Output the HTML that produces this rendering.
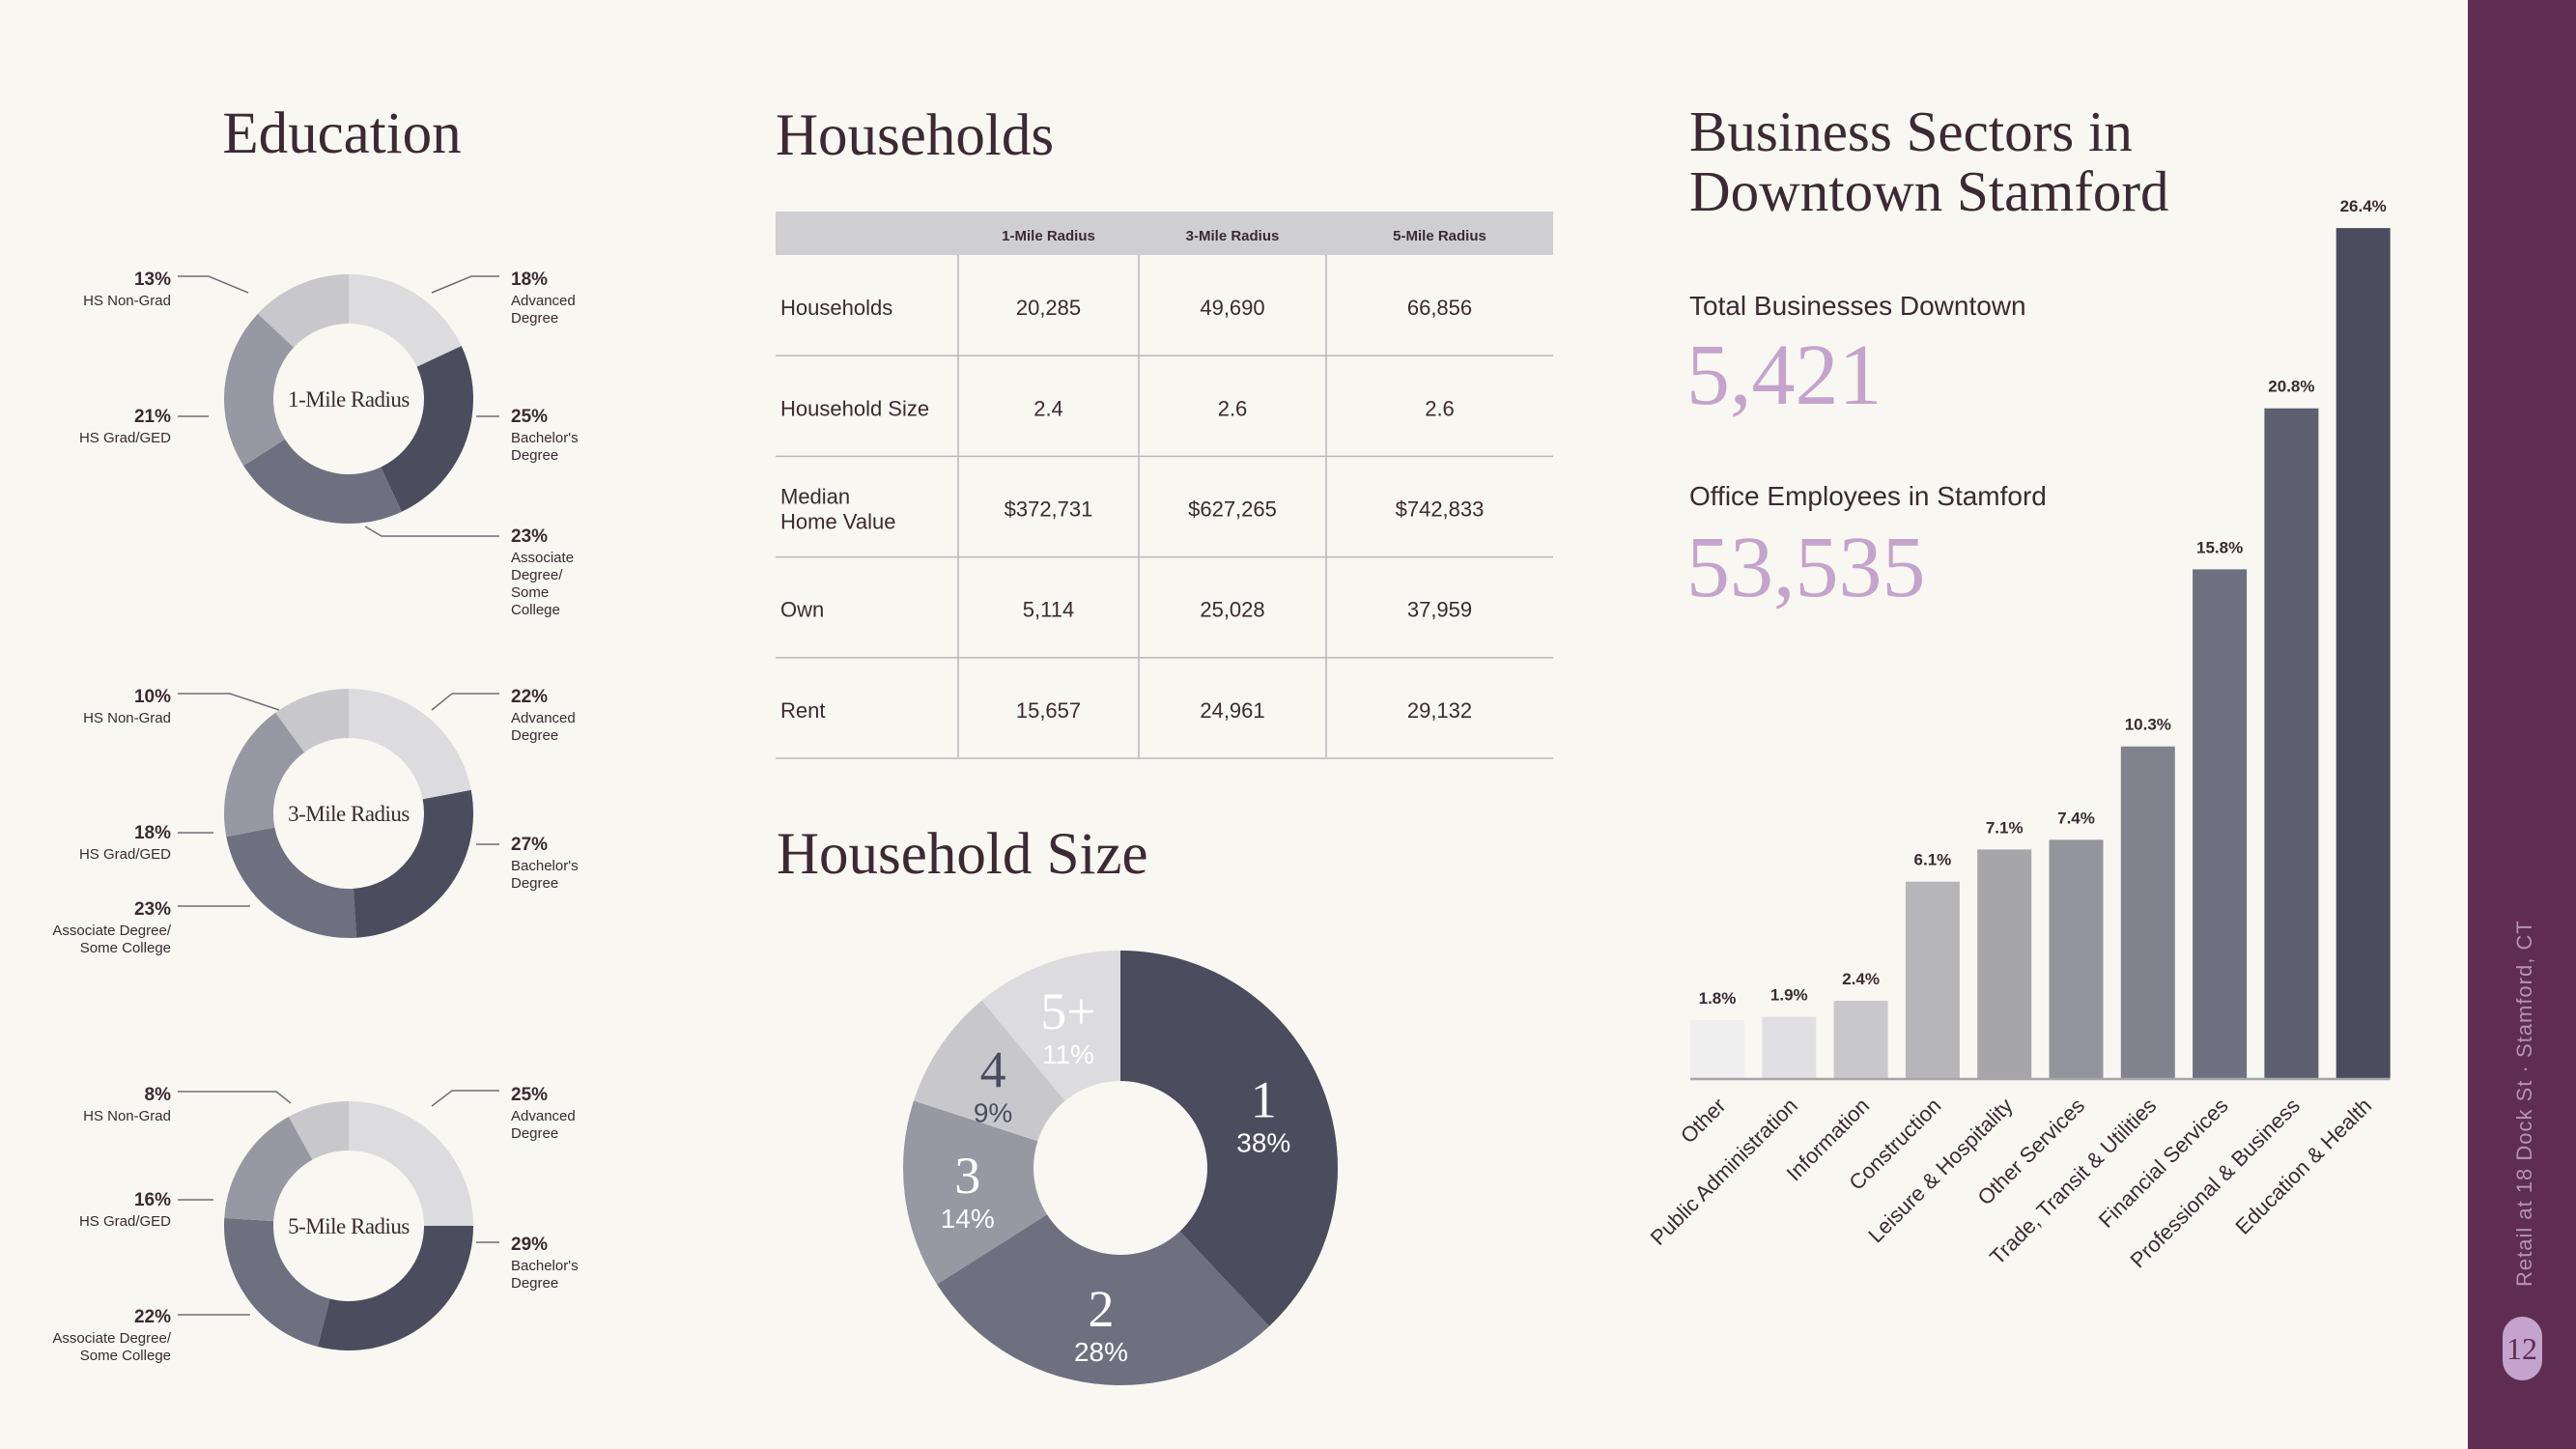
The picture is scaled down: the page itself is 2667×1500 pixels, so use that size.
<!DOCTYPE html>
<html><head><meta charset="utf-8"><style>
html,body{margin:0;padding:0;background:#f8f7f1;}
svg{display:block;}
.serif{font-family:"Liberation Serif",serif;}
.sans{font-family:"Liberation Sans",sans-serif;}
</style></head><body>
<svg id="root" width="2667" height="1500" viewBox="0 0 2667 1500" xmlns="http://www.w3.org/2000/svg">
<rect width="2667" height="1500" fill="#f8f7f1"/>
<rect x="2555" y="0" width="112" height="1500" fill="#5f2c52"/>
<text class="sans" transform="translate(2621,1332) rotate(-90)" font-size="22" fill="#b592b2" letter-spacing="1">Retail at 18 Dock St · Stamford, CT</text>
<rect x="2591" y="1363" width="41" height="66" rx="20.5" fill="#c4a3cc"/>
<text class="serif" x="2611" y="1407" font-size="32" text-anchor="middle" fill="#5f2c52">12</text>

<text class="serif" x="354" y="158" font-size="61" text-anchor="middle" fill="#3b2a33">Education</text>
<g id="edu"></g>

<text class="serif" x="803" y="160" font-size="61" fill="#3b2a33">Households</text>
<g id="table" class="sans"></g>

<text class="serif" x="804" y="904" font-size="61" fill="#3b2a33">Household Size</text>
<g id="pie"></g>

<text class="serif" x="1749" y="156" font-size="59" fill="#3b2a33">Business Sectors in</text>
<text class="serif" x="1749" y="218" font-size="59" fill="#3b2a33">Downtown Stamford</text>
<text class="sans" x="1749" y="326" font-size="28" fill="#3b2a33">Total Businesses Downtown</text>
<text class="serif" x="1746" y="418" font-size="90" fill="#c4a3cc">5,421</text>
<text class="sans" x="1749" y="523" font-size="28" fill="#3b2a33">Office Employees in Stamford</text>
<text class="serif" x="1746" y="617" font-size="90" fill="#c4a3cc">53,535</text>
<g id="bars" class="sans"></g>
</svg>
<script>
const NS="http://www.w3.org/2000/svg";
function mk(tag,attrs,parent,txt){const e=document.createElementNS(NS,tag);for(const k in attrs)e.setAttribute(k,attrs[k]);if(txt!==undefined)e.textContent=txt;parent.appendChild(e);return e;}
const DARK="#3b2a33";
const SEG_COLORS=["#dcdcde","#4b4c5e","#6e7080","#9898a2","#c8c8cc"];

// ===== Education donuts =====
const eduRadii=["1-Mile Radius","3-Mile Radius","5-Mile Radius"];
const eduCats=["Advanced Degree","Bachelor's Degree","Associate Degree/Some College","HS Grad/GED","HS Non-Grad"];
const edu1=[18,25,23,21,13];
const edu2=[22,27,23,18,10];
const edu3=[25,29,22,16,8];
const eduSeries=[edu1,edu2,edu3];

function arcPath(cx,cy,ro,ri,a0,a1){
  const p=(r,a)=>[cx+r*Math.sin(a),cy-r*Math.cos(a)];
  const large=(a1-a0)>Math.PI?1:0;
  const [x0,y0]=p(ro,a0),[x1,y1]=p(ro,a1),[x2,y2]=p(ri,a1),[x3,y3]=p(ri,a0);
  return `M${x0},${y0}A${ro},${ro} 0 ${large} 1 ${x1},${y1}L${x2},${y2}A${ri},${ri} 0 ${large} 0 ${x3},${y3}Z`;
}
const edu=document.getElementById('edu');
const eduCy=[413,842,1269];
const eduLabelLayout=[
 [{side:'r',y:295,lines:["Advanced","Degree"],ln:[[447,303],[488,286],[517,286]]},
  {side:'r',y:437,lines:["Bachelor's","Degree"],ln:[[493,431],[517,431]]},
  {side:'r',y:561,lines:["Associate","Degree/","Some","College"],ln:[[378,545],[395,555],[517,555]]},
  {side:'l',y:437,lines:["HS Grad/GED"],ln:[[184,431],[216,431]]},
  {side:'l',y:295,lines:["HS Non-Grad"],ln:[[184,286],[216,286],[257,303]]}],
 [{side:'r',y:727,lines:["Advanced","Degree"],ln:[[447,735],[468,718],[517,718]]},
  {side:'r',y:880,lines:["Bachelor's","Degree"],ln:[[493,874],[517,874]]},
  {side:'l',y:947,lines:["Associate Degree/","Some College"],ln:[[184,938],[259,938]]},
  {side:'l',y:868,lines:["HS Grad/GED"],ln:[[184,862],[221,862]]},
  {side:'l',y:727,lines:["HS Non-Grad"],ln:[[184,718],[238,718],[289,735]]}],
 [{side:'r',y:1139,lines:["Advanced","Degree"],ln:[[447,1145],[468,1129],[517,1129]]},
  {side:'r',y:1294,lines:["Bachelor's","Degree"],ln:[[493,1286],[517,1286]]},
  {side:'l',y:1369,lines:["Associate Degree/","Some College"],ln:[[184,1361],[259,1361]]},
  {side:'l',y:1248,lines:["HS Grad/GED"],ln:[[184,1242],[221,1242]]},
  {side:'l',y:1139,lines:["HS Non-Grad"],ln:[[184,1130],[286,1130],[301,1142]]}]
];
eduSeries.forEach((vals,d)=>{
  const cx=361,cy=eduCy[d];
  const tot=vals.reduce((a,b)=>a+b,0);
  let a=0;
  vals.forEach((v,i)=>{
    const a1=a+v/tot*2*Math.PI;
    const seg=mk('path',{d:arcPath(cx,cy,129,78,a,a1),fill:SEG_COLORS[i]},edu);
    
    
    a=a1;
  });
  const c=mk('text',{x:cx,y:cy+8,'text-anchor':'middle','font-size':23,fill:DARK,class:'serif','letter-spacing':'-0.5'},edu,eduRadii[d]);
  
  
  eduLabelLayout[d].forEach((L,i)=>{
    const pl=mk('polyline',{points:L.ln.map(p=>p.join(',')).join(' '),fill:'none',stroke:'#6e6e78','stroke-width':1.5},edu);
    
    
    const x=L.side==='r'?529:177, anc=L.side==='r'?'start':'end';
    const t=mk('text',{x:x,y:L.y,'text-anchor':anc,'font-size':19,'font-weight':'bold',fill:DARK,class:'sans'},edu,vals[i]+'%');
    
    
    L.lines.forEach((ln,k)=>{
      const s=mk('text',{x:x,y:L.y+21+k*18,'text-anchor':anc,'font-size':15,fill:DARK,class:'sans'},edu,ln);
      
      
    });
  });
});

// ===== Households table =====
const colHeads=["1-Mile Radius","3-Mile Radius","5-Mile Radius"];
const rowHeads=[["Households"],["Household Size"],["Median","Home Value"],["Own"],["Rent"]];
const tableVals=[["20,285","49,690","66,856"],["2.4","2.6","2.6"],["$372,731","$627,265","$742,833"],["5,114","25,028","37,959"],["15,657","24,961","29,132"]];
const tb=document.getElementById('table');
const colX=[803,992,1179,1373,1608];
let hr=mk('rect',{x:803,y:219,width:805,height:45,fill:'#cfcfd1'},tb);


colHeads.forEach((h,i)=>{
  const t=mk('text',{x:(colX[i+1]+colX[i+2])/2,y:249,'text-anchor':'middle','font-size':15,'font-weight':'bold',fill:DARK},tb,h);
  
  
});
const rowH=104.2;
rowHeads.forEach((r,ri)=>{
  const y0=264+ri*rowH, ym=y0+rowH/2;
  const ln=mk('line',{x1:803,x2:1608,y1:y0+rowH,y2:y0+rowH,stroke:'#b8b8bc','stroke-width':1.5},tb);
  
  
  r.forEach((s,k)=>{
    const t=mk('text',{x:808,y:ym+10+(k-(r.length-1)/2)*26,'font-size':22,fill:DARK},tb,s);
    
    
  });
  tableVals[ri].forEach((v,ci)=>{
    const t=mk('text',{x:(colX[ci+1]+colX[ci+2])/2,y:ym+10,'text-anchor':'middle','font-size':22,fill:DARK},tb,v);
    
    
  });
});
[992,1179,1373].forEach(x=>{
  const l=mk('line',{x1:x,x2:x,y1:264,y2:784,stroke:'#b8b8bc','stroke-width':1.5},tb);
  
  
});

// ===== Household size donut =====
const hhLabels=["1","2","3","4","5+"];
const hhVals=[38,28,14,9,11];
const hhColors=["#4b4c5e","#6e7080","#9898a2","#c8c8cc","#dcdcde"];
const hhText=["#ffffff","#ffffff","#ffffff","#4b4c5e","#ffffff"];
const pie=document.getElementById('pie');
(function(){
  const cx=1160,cy=1209,ro=225,ri=90;
  const tot=hhVals.reduce((a,b)=>a+b,0);
  let a=0;
  hhVals.forEach((v,i)=>{
    const a1=a+v/tot*2*Math.PI;
    const p=mk('path',{d:arcPath(cx,cy,ro,ri,a,a1),fill:hhColors[i]},pie);
    
    
    const am=(a+a1)/2, rr=(ro+ri)/2+2;
    const lx=cx+rr*Math.sin(am), ly=cy-rr*Math.cos(am)+6;
    const t1=mk('text',{x:lx,y:ly,'text-anchor':'middle','font-size':54,fill:hhText[i],class:'serif'},pie,hhLabels[i]);
    
    
    const t2=mk('text',{x:lx,y:ly+36,'text-anchor':'middle','font-size':28,fill:hhText[i],class:'sans'},pie,v+'%');
    
    
    a=a1;
  });
})();

// ===== Business sectors bar chart =====
const sectors=["Other","Public Administration","Information","Construction","Leisure & Hospitality","Other Services","Trade, Transit & Utilities","Financial Services","Professional & Business","Education & Health"];
const sectorVals=[1.8,1.9,2.4,6.1,7.1,7.4,10.3,15.8,20.8,26.4];
const barColors=["#efeff0","#e0e0e3","#c8c8cb","#b6b6ba","#a5a5aa","#94949d","#81828d","#6f7080","#5d5e6e","#4b4c5e"];
const bars=document.getElementById('bars');
const baseY=1116, pxPer=33.33, x0=1778, pitch=74.3, bw=56;
const yScale=v=>baseY-v*pxPer;
const xScale=i=>x0+i*pitch;
sectorVals.forEach((v,i)=>{
  const cx=xScale(i);
  const r=mk('rect',{x:cx-bw/2,y:yScale(v),width:bw,height:baseY-yScale(v),fill:barColors[i]},bars);
  
  
  const t=mk('text',{x:cx,y:yScale(v)-17,'text-anchor':'middle','font-size':17,'font-weight':'bold',fill:DARK},bars,v.toFixed(1)+'%');
  
  
  const c=mk('text',{transform:`translate(${cx+10},${baseY+30}) rotate(-45)`,'text-anchor':'end','font-size':22,fill:DARK},bars,sectors[i]);
  
  
});
const ax=mk('line',{x1:xScale(0)-bw/2,x2:xScale(sectorVals.length-1)+bw/2,y1:baseY+1,y2:baseY+1,stroke:'#a5a5aa','stroke-width':2.5},bars);


</script>
</body></html>
